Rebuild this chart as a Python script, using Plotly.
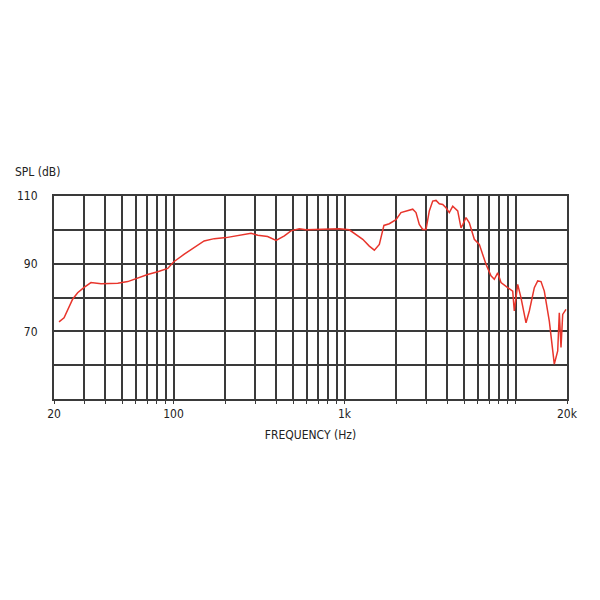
import plotly.graph_objects as go

# Frequency response (Hz, dB SPL)
freq_hz = [21.4, 22.9, 25.7, 27.5, 30, 32.9, 37.7, 47.2, 54, 61.7, 70.6, 80.8, 92.5, 100,
           115.6, 151, 173, 203, 237, 284, 311, 355, 398, 445, 486, 544,
           595, 779, 932, 1066, 1166, 1278, 1396, 1494, 1598, 1673, 1700, 1828, 2000,
           2138, 2341, 2505, 2618, 2737, 2866, 2996, 3132, 3279, 3428, 3584, 3752, 3922,
           4100, 4293, 4591, 4800, 4910, 5134, 5368, 5742, 6141, 6720, 7186, 7514, 7866,
           8224, 9000, 9628, 9836, 10296, 10766, 11516, 12040, 12880, 13484, 14094, 14734,
           15760, 16856, 17646, 18032, 18448, 18876, 19734]
spl_db = [72.8, 74.0, 79.5, 81.4, 83.0, 84.4, 84.1, 84.2, 84.7, 85.8, 86.8, 87.6, 88.6, 90.5,
          92.8, 96.7, 97.4, 97.7, 98.2, 99.0, 98.4, 98.0, 96.9, 98.2, 99.7, 100.3,
          100.0, 100.3, 100.3, 100.0, 98.7, 97.2, 95.2, 94.0, 95.7, 99.7, 101.3, 101.8, 103.0,
          105.1, 105.8, 106.1, 105.1, 101.6, 100.1, 100.1, 105.6, 108.5, 108.7, 107.7, 107.5, 106.5,
          105.1, 107.0, 105.6, 100.6, 101.5, 103.6, 102.1, 97.2, 95.7, 89.8, 86.4, 85.4, 87.3,
          84.4, 82.9, 81.9, 76.0, 83.9, 79.9, 72.5, 76.0, 82.9, 84.9, 84.7, 81.9,
          73.0, 60.3, 64.2, 75.5, 65.2, 75.0, 76.5]

x_grid = [20, 30, 40, 50, 60, 70, 80, 90,
          100, 200, 300, 400, 500, 600, 700, 800, 900,
          1000, 2000, 3000, 4000, 5000, 6000, 7000, 8000, 9000,
          10000, 20000]
x_labels = {20: "20", 100: "100", 1000: "1k", 20000: "20k"}
y_grid = [50, 60, 70, 80, 90, 100, 110]
y_labels = {70: "70", 90: "90", 110: "110"}

font_fam = "DejaVu Sans Condensed, Liberation Sans Narrow, sans-serif"
grid_col = "#3a3a3a"
txt_col = "#222222"

fig = go.Figure()
fig.add_trace(go.Scatter(
    x=freq_hz, y=spl_db, mode="lines",
    line=dict(color="#e8352c", width=1.5),
    hoverinfo="skip", showlegend=False,
))

fig.update_layout(
    width=600, height=600,
    paper_bgcolor="white", plot_bgcolor="white",
    margin=dict(l=46, r=41, t=188, b=209, autoexpand=False),
    font=dict(family=font_fam, size=12, color=txt_col),
    showlegend=False,
    xaxis=dict(
        type="log", range=[1.30103, 4.30103],
        tickmode="array", tickvals=x_grid,
        ticktext=[x_labels.get(v, "") for v in x_grid],
        showgrid=True, gridcolor=grid_col, gridwidth=2,
        showline=True, linecolor=grid_col, linewidth=2, mirror=True,
        ticks="outside", ticklen=3, tickcolor=grid_col, tickwidth=1,
        tickfont=dict(size=12, color=txt_col),
        title=dict(text="FREQUENCY (Hz)", font=dict(size=12, color=txt_col), standoff=10),
        zeroline=False, automargin=False,
    ),
    yaxis=dict(
        range=[50, 110],
        tickmode="array", tickvals=y_grid,
        ticktext=[y_labels.get(v, "") for v in y_grid],
        showgrid=True, gridcolor=grid_col, gridwidth=2,
        showline=True, linecolor=grid_col, linewidth=2, mirror=True,
        ticks="", ticklabelstandoff=12,
        tickfont=dict(size=12, color=txt_col),
        zeroline=False, automargin=False,
    ),
    annotations=[dict(
        text="SPL (dB)", xref="paper", yref="paper", x=-0.08, y=1.12,
        xanchor="left", yanchor="middle", showarrow=False,
        font=dict(size=12, color=txt_col, family=font_fam),
    )],
)

fig.write_html("out.html")
